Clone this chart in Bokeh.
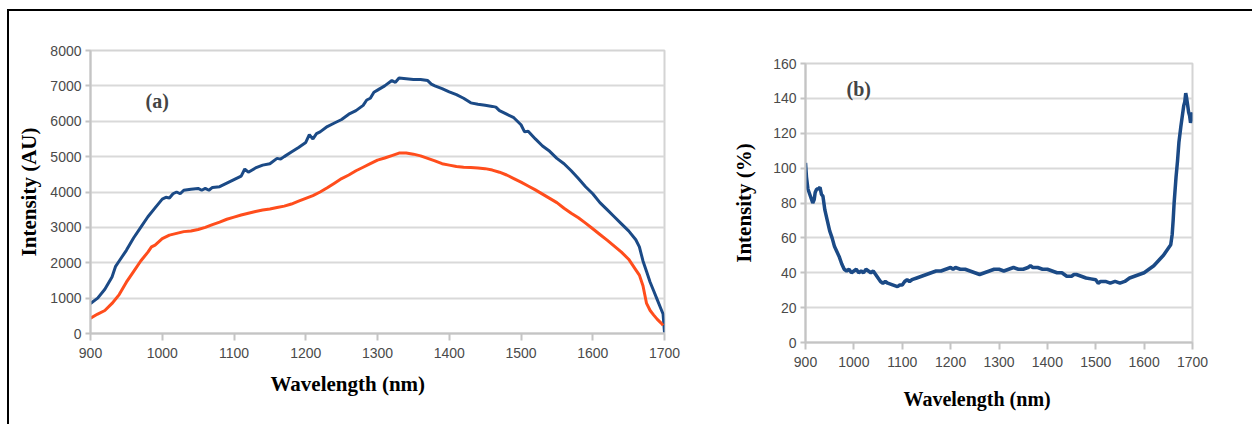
from bokeh.plotting import figure
from bokeh.layouts import row
from bokeh.models import Label, Title, FixedTicker, Range1d
from bokeh.embed import file_html
from bokeh.resources import INLINE

# ---------------- data ----------------
x_ticks = [900, 1000, 1100, 1200, 1300, 1400, 1500, 1600, 1700]
ya_ticks = [0, 1000, 2000, 3000, 4000, 5000, 6000, 7000, 8000]
yb_ticks = [0, 20, 40, 60, 80, 100, 120, 140, 160]

blue_wl = [900, 910, 920, 930, 935, 940, 950, 960, 970, 980, 990, 1000, 1005, 1010,
           1015, 1020, 1025, 1030, 1040, 1050, 1055, 1060, 1065, 1070, 1080, 1090,
           1100, 1110, 1115, 1120, 1130, 1140, 1150, 1160, 1165, 1170, 1180, 1190,
           1200, 1205, 1210, 1215, 1220, 1230, 1240, 1250, 1260, 1270, 1280, 1285,
           1290, 1295, 1300, 1310, 1320, 1325, 1330, 1340, 1350, 1360, 1370, 1375,
           1380, 1390, 1400, 1410, 1420, 1430, 1440, 1450, 1460, 1465, 1470, 1480,
           1490, 1495, 1500, 1505, 1510, 1520, 1530, 1540, 1550, 1560, 1570, 1580,
           1590, 1600, 1610, 1620, 1630, 1640, 1650, 1660, 1665, 1670, 1675, 1680,
           1685, 1690, 1695, 1698, 1700]
blue_int = [850, 1000, 1250, 1600, 1900, 2050, 2350, 2700, 3000, 3300, 3550, 3800, 3850, 3830,
            3950, 4000, 3950, 4050, 4080, 4100, 4050, 4100, 4050, 4130, 4150, 4250,
            4350, 4450, 4650, 4560, 4680, 4760, 4800, 4950, 4930, 5000, 5130, 5260,
            5400, 5620, 5500, 5650, 5700, 5850, 5950, 6050, 6200, 6300, 6450, 6600,
            6650, 6820, 6880, 7000, 7150, 7100, 7220, 7200, 7180, 7180, 7150, 7050,
            7000, 6920, 6830, 6750, 6650, 6520, 6480, 6450, 6420, 6400, 6300, 6200,
            6100, 6000, 5900, 5700, 5720, 5500, 5300, 5150, 4950, 4800, 4600, 4380,
            4150, 3950, 3700, 3500, 3300, 3100, 2900, 2650, 2450, 2050, 1750, 1450,
            1200, 950, 700, 550, 30]

red_wl = [900, 910, 920, 930, 940, 950, 960, 970, 980, 985, 990, 1000, 1010, 1020,
          1030, 1040, 1050, 1060, 1070, 1080, 1090, 1100, 1110, 1120, 1130, 1140,
          1150, 1160, 1170, 1180, 1190, 1200, 1210, 1220, 1230, 1240, 1250, 1260,
          1270, 1280, 1290, 1300, 1310, 1320, 1330, 1340, 1350, 1360, 1370, 1380,
          1390, 1400, 1410, 1420, 1430, 1440, 1450, 1460, 1470, 1480, 1490, 1500,
          1510, 1520, 1530, 1540, 1550, 1560, 1570, 1580, 1590, 1600, 1610, 1620,
          1630, 1640, 1650, 1660, 1665, 1670, 1675, 1680, 1685, 1690, 1695, 1698]
red_int = [430, 550, 650, 850, 1100, 1450, 1750, 2050, 2300, 2450, 2500, 2680, 2780, 2830,
           2880, 2900, 2940, 3000, 3080, 3150, 3230, 3290, 3350, 3400, 3450, 3490,
           3520, 3560, 3600, 3660, 3740, 3820, 3900, 4000, 4120, 4250, 4380, 4480,
           4600, 4700, 4800, 4900, 4960, 5030, 5100, 5100, 5070, 5020, 4950, 4880,
           4800, 4760, 4720, 4700, 4690, 4680, 4660, 4620, 4560, 4480, 4380, 4280,
           4170, 4060, 3940, 3820, 3700, 3540, 3400, 3270, 3120, 2960, 2800, 2640,
           2470, 2300, 2100, 1800, 1650, 1350, 850, 650, 520, 400, 300, 230]

ratio_wl = [900, 902, 905, 910, 915, 918, 920, 923, 926, 930, 933, 936, 940, 945, 950,
            955, 960, 965, 970, 975, 980, 985, 990, 995, 1000, 1005, 1010, 1015, 1020,
            1025, 1030, 1035, 1040, 1045, 1050, 1055, 1060, 1065, 1070, 1080, 1090,
            1095, 1100, 1105, 1110, 1115, 1120, 1130, 1140, 1150, 1160, 1170, 1180,
            1190, 1200, 1205, 1210, 1220, 1230, 1240, 1250, 1260, 1270, 1280, 1290,
            1300, 1310, 1320, 1330, 1340, 1350, 1360, 1365, 1370, 1380, 1390, 1400,
            1410, 1420, 1430, 1440, 1450, 1455, 1460, 1470, 1480, 1490, 1500, 1505,
            1510, 1520, 1530, 1540, 1550, 1560, 1570, 1580, 1590, 1600, 1610, 1620,
            1630, 1640, 1650, 1655, 1658, 1660, 1662, 1666, 1669, 1672, 1676, 1679,
            1682, 1684, 1686, 1688, 1690, 1692, 1694, 1696, 1698, 1700]
ratio_pct = [103, 95, 88, 84, 80, 82, 86, 88, 88, 89, 85, 84, 76, 70, 64,
             60, 55, 52, 49, 45, 42, 41, 42, 40, 41, 42, 40, 41, 40,
             42, 41, 40, 41, 39, 37, 35, 34, 35, 34, 33, 32,
             33, 33, 35, 36, 35, 36, 37, 38, 39, 40, 41, 41,
             42, 43, 42, 43, 42, 42, 41, 40, 39, 40, 41, 42,
             42, 41, 42, 43, 42, 42, 43, 44, 43, 43, 42, 42,
             41, 40, 40, 38, 38, 39, 39, 38, 37, 36.5, 36, 34,
             35, 35, 34, 35, 34, 35, 37, 38, 39, 40, 42, 44,
             47, 50, 54, 56, 62, 70, 80, 95, 104, 115, 124, 130,
             136, 138, 143, 140, 136, 132, 130, 126, 128, 132]

BLUE = "#1b4a86"
RED = "#ff4d1c"
TICK_FONT = "Liberation Sans"
SERIF = "Liberation Serif"


def make_fig(w, h, yr, yticks, bl, br, bt, bb):
    p = figure(width=w, height=h, x_range=Range1d(900, 1700), y_range=Range1d(*yr),
               output_backend="svg", toolbar_location=None, title=None,
               min_border_left=bl, min_border_right=br, min_border_top=bt,
               min_border_bottom=bb)
    p.xaxis.ticker = FixedTicker(ticks=x_ticks)
    p.yaxis.ticker = FixedTicker(ticks=yticks)
    p.xgrid.grid_line_color = None
    p.ygrid.grid_line_color = "#d9d9d9"
    p.ygrid.grid_line_width = 2
    p.outline_line_color = "#d4d4d4"
    p.outline_line_width = 2
    for ax in (p.xaxis[0], p.yaxis[0]):
        ax.axis_line_color = "#c4c4c4"
        ax.axis_line_width = 2
        ax.major_tick_line_color = "#c4c4c4"
        ax.major_tick_line_width = 2
        ax.major_tick_in = 0
        ax.minor_tick_line_color = None
        ax.major_label_text_font = TICK_FONT
        ax.major_label_text_font_size = "14px"
        ax.major_label_text_color = "#4a4a4a"
        ax.axis_label_text_font = SERIF
        ax.axis_label_text_font_style = "bold"
        ax.axis_label_text_color = "black"
    p.xaxis.major_tick_out = 7
    p.yaxis.major_tick_out = 5
    p.xaxis.major_label_standoff = 7
    p.yaxis.major_label_standoff = 4
    return p


# ---------------- panel (a) ----------------
p1 = make_fig(691, 413, (0, 8000), ya_ticks, 81, 36, 39, 91)
p1.line(blue_wl, blue_int, line_color=BLUE, line_width=3)
p1.line(red_wl, red_int, line_color=RED, line_width=3)
p1.yaxis.axis_label = "Intensity (AU)"
p1.yaxis.axis_label_text_font_size = "21px"
p1.yaxis.axis_label_standoff = 6
p1.add_layout(Title(text="Wavelength (nm)", align="left", offset=180,
                    text_font=SERIF, text_font_style="bold", text_font_size="21px",
                    text_color="black", standoff=18), "below")
p1.add_layout(Label(x=55, y=233, x_units="screen", y_units="screen", text="(a)",
                    text_font=SERIF, text_font_style="bold", text_font_size="20px",
                    text_baseline="middle", text_align="left"))

# ---------------- panel (b) ----------------
p2 = make_fig(552, 409, (0, 160), yb_ticks, 105, 60, 39, 91)
p2.margin = (13, 0, 0, 0)
p2.line(ratio_wl, ratio_pct, line_color=BLUE, line_width=3.5)
p2.yaxis.axis_label = "Intensity (%)"
p2.yaxis.axis_label_text_font_size = "21px"
p2.yaxis.axis_label_standoff = 14
p2.add_layout(Title(text="Wavelength (nm)", align="left", offset=98,
                    text_font=SERIF, text_font_style="bold", text_font_size="20px",
                    text_color="black", standoff=32), "below")
p2.add_layout(Label(x=41, y=254, x_units="screen", y_units="screen", text="(b)",
                    text_font=SERIF, text_font_style="bold", text_font_size="20px",
                    text_baseline="middle", text_align="left"))

layout = row(p1, p2, margin=(9, 0, 0, 7),
             styles={"border-top": "2px solid black", "border-left": "2px solid black"})

open("out.html", "w").write(file_html(layout, INLINE))
